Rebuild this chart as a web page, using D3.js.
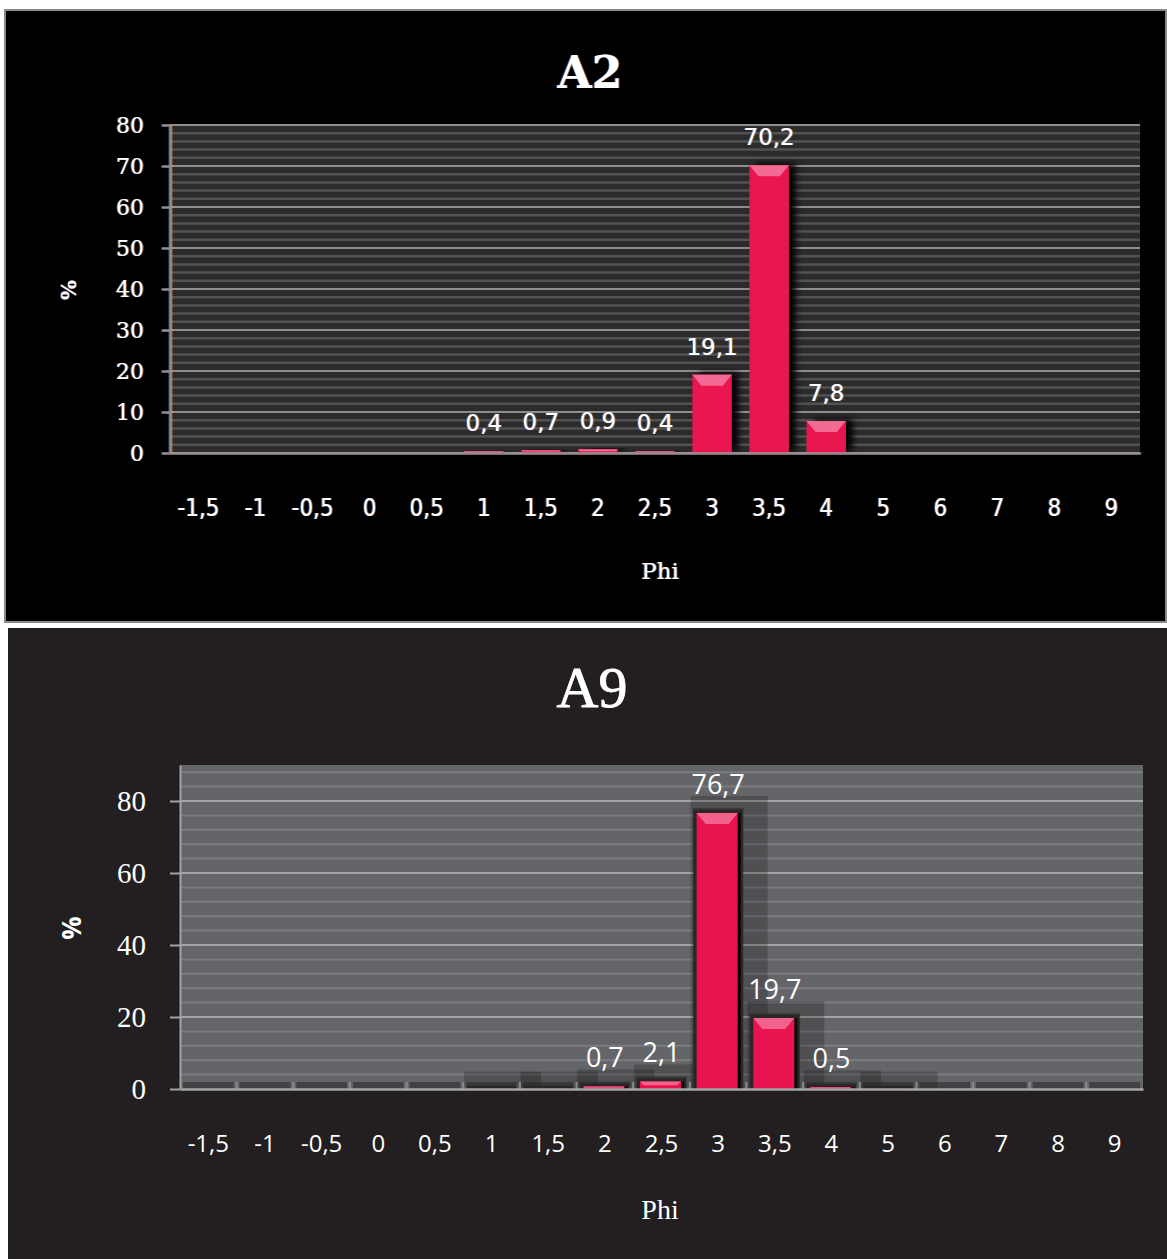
<!DOCTYPE html>
<html>
<head>
<meta charset="utf-8">
<script src="https://cdn.jsdelivr.net/npm/d3@7"></script>
<style>
  html, body { margin: 0; padding: 0; background: #fff; }
  svg { display: block; }
</style>
</head>
<body>
<script>
// Grain-size distributions (percent per Phi class) for samples A2 and A9
const categories = ["-1,5", "-1", "-0,5", "0", "0,5", "1", "1,5", "2", "2,5", "3", "3,5", "4", "5", "6", "7", "8", "9"];
const a2Values = [0, 0, 0, 0, 0, 0.4, 0.7, 0.9, 0.4, 19.1, 70.2, 7.8, 0, 0, 0, 0, 0];
const a9Values = [0, 0, 0, 0, 0, 0.1, 0.1, 0.7, 2.1, 76.7, 19.7, 0.5, 0.1, 0, 0, 0, 0];
const a2Ticks = [0, 10, 20, 30, 40, 50, 60, 70, 80];
const a9Ticks = [0, 20, 40, 60, 80];
const labelMin = 0.3;

const W = 1167, H = 1259;
const fmt = d => d.toFixed(1).replace(".", ",");

const svg = d3.select("body").append("svg").attr("width", W).attr("height", H);
const defs = svg.append("defs");

// Colour fringe around the light text of the A2 panel
const fr = defs.append("filter").attr("id", "fringe")
  .attr("x", "-10%").attr("y", "-10%").attr("width", "120%").attr("height", "120%");
fr.append("feOffset").attr("in", "SourceAlpha").attr("dx", -0.7).attr("dy", 0).attr("result", "ba");
fr.append("feFlood").attr("flood-color", "#4aa3ff").attr("flood-opacity", 0.55).attr("result", "bc");
fr.append("feComposite").attr("in", "bc").attr("in2", "ba").attr("operator", "in").attr("result", "blue");
fr.append("feOffset").attr("in", "SourceAlpha").attr("dx", 0.7).attr("dy", 0).attr("result", "oa");
fr.append("feFlood").attr("flood-color", "#ff9d33").attr("flood-opacity", 0.55).attr("result", "oc");
fr.append("feComposite").attr("in", "oc").attr("in2", "oa").attr("operator", "in").attr("result", "orange");
const fm = fr.append("feMerge");
fm.append("feMergeNode").attr("in", "blue");
fm.append("feMergeNode").attr("in", "orange");
fm.append("feMergeNode").attr("in", "SourceGraphic");

// Soft dark shadow to the right of the A2 bars
const sh = defs.append("filter").attr("id", "barShadow")
  .attr("x", "-30%").attr("y", "-30%").attr("width", "180%").attr("height", "160%");
sh.append("feDropShadow").attr("dx", 7).attr("dy", -2).attr("stdDeviation", 3)
  .attr("flood-color", "#000").attr("flood-opacity", 0.95);

svg.append("rect").attr("width", W).attr("height", H).attr("fill", "#fff");

// ---------------- Panel A2 ----------------
svg.append("rect").attr("x", 5).attr("y", 10).attr("width", 1161).attr("height", 612)
  .attr("fill", "#000").attr("stroke", "#8a8a8a").attr("stroke-width", 2);

const x2 = d3.scaleBand().domain(categories).range([170, 1140]).paddingInner(0.31).paddingOuter(0.155);
const y2 = d3.scaleLinear().domain([0, 80]).range([453, 125]);

const g2 = svg.append("g");
g2.append("rect").attr("x", 170).attr("y", y2(80) - 1).attr("width", 970).attr("height", y2(0) - y2(80) + 1)
  .attr("fill", "#2b2b2b");
g2.selectAll("line.minor").data(d3.range(0, 81, 2).filter(v => v % 10 !== 0)).join("line")
  .attr("x1", 170).attr("x2", 1140).attr("y1", d => y2(d)).attr("y2", d => y2(d))
  .attr("stroke", "#525252").attr("stroke-width", 2.5);
g2.selectAll("line.major").data(a2Ticks).join("line")
  .attr("x1", 170).attr("x2", 1140).attr("y1", d => y2(d)).attr("y2", d => y2(d))
  .attr("stroke", "#8e8e8e").attr("stroke-width", 2);

// bars
const bars2 = g2.append("g").selectAll("g").data(categories.map((c, i) => ({ c, v: a2Values[i] })).filter(d => d.v > 0)).join("g");
bars2.append("rect")
  .attr("x", d => x2(d.c)).attr("y", d => y2(d.v)).attr("width", x2.bandwidth())
  .attr("height", d => y2(0) - y2(d.v)).attr("fill", "#e9164f").attr("filter", "url(#barShadow)");
bars2.append("path")
  .attr("d", d => {
    const x = x2(d.c), w = x2.bandwidth(), t = y2(d.v), h = Math.min(11, (y2(0) - t) * 0.5), ins = Math.min(9, h);
    return `M${x},${t}H${x + w}L${x + w - ins},${t + h}H${x + ins}Z`;
  })
  .attr("fill", "#f36a92");

const a2Text = svg.append("g").attr("filter", "url(#fringe)");

// y axis
const ay2 = a2Text.append("g").attr("transform", "translate(170,0)")
  .call(d3.axisLeft(y2).tickValues(a2Ticks).tickFormat(d3.format("d")).tickSize(8).tickSizeOuter(0).tickPadding(18));
ay2.select(".domain").attr("stroke", "#8e8e8e").attr("stroke-width", 2);
ay2.selectAll(".tick line").attr("stroke", "#8e8e8e").attr("stroke-width", 2);
ay2.selectAll(".tick text").attr("fill", "#fff").attr("font-family", "DejaVu Serif").attr("font-size", 22);

// x axis
const ax2 = a2Text.append("g").attr("transform", `translate(0,${y2(0)})`)
  .call(d3.axisBottom(x2).tickSize(0).tickSizeOuter(0).tickPadding(46));
ax2.select(".domain").attr("stroke", "#8e8e8e").attr("stroke-width", 2);
ax2.selectAll(".tick text").attr("fill", "#fff")
  .attr("font-family", "'Liberation Sans Narrow', 'DejaVu Sans Condensed', 'Liberation Sans'").attr("font-size", 24);

// value labels
a2Text.append("g").selectAll("text").data(categories.map((c, i) => ({ c, v: a2Values[i] })).filter(d => d.v >= labelMin)).join("text")
  .attr("x", d => x2(d.c) + x2.bandwidth() / 2).attr("y", d => y2(d.v) - 20)
  .attr("text-anchor", "middle").attr("fill", "#fff")
  .attr("font-family", "'DejaVu Sans'").attr("font-size", 23)
  .text(d => fmt(d.v));

a2Text.append("text").attr("x", 590).attr("y", 88).attr("text-anchor", "middle").attr("fill", "#fff")
  .attr("font-family", "DejaVu Serif").attr("font-weight", "bold").attr("font-size", 44).text("A2");
a2Text.append("text").attr("x", 660).attr("y", 579).attr("text-anchor", "middle").attr("fill", "#fff")
  .attr("font-family", "DejaVu Serif").attr("font-size", 23).text("Phi");
a2Text.append("text").attr("transform", "translate(76,290) rotate(-90)").attr("text-anchor", "middle").attr("fill", "#fff")
  .attr("font-family", "DejaVu Serif").attr("font-weight", "bold").attr("font-size", 21).text("%");

// ---------------- Panel A9 ----------------
svg.append("rect").attr("x", 8).attr("y", 628).attr("width", 1159).attr("height", 631).attr("fill", "#231f20");

const x9 = d3.scaleBand().domain(categories).range([180, 1143]).paddingInner(0.24).paddingOuter(0.12);
const y9 = d3.scaleLinear().domain([0, 90]).range([1089, 765]);
const step9 = x9.step();

const g9 = svg.append("g");
g9.append("rect").attr("x", 180).attr("y", y9(90)).attr("width", 963).attr("height", y9(0) - y9(90))
  .attr("fill", "#646568");
g9.selectAll("line.minor").data(d3.range(4, 90, 4).filter(v => v % 20 !== 0)).join("line")
  .attr("x1", 180).attr("x2", 1143).attr("y1", d => y9(d)).attr("y2", d => y9(d))
  .attr("stroke", "#7b7c7f").attr("stroke-width", 2);
g9.selectAll("line.major").data(a9Ticks.filter(v => v > 0)).join("line")
  .attr("x1", 180).attr("x2", 1143).attr("y1", d => y9(d)).attr("y2", d => y9(d))
  .attr("stroke", "#a3a4a6").attr("stroke-width", 2);

const data9 = categories.map((c, i) => ({ c, v: a9Values[i] }));
// base shadow strips and raised shadows behind the bars
const sg = g9.append("g");
sg.selectAll("rect.outer").data(data9.filter(d => d.v > 0)).join("rect")
  .attr("x", d => x9(d.c) - 6).attr("y", d => y9(d.v) - 17)
  .attr("width", x9.bandwidth() + 34).attr("height", d => y9(0) - y9(d.v) + 17)
  .attr("fill", "#000").attr("fill-opacity", 0.2);
sg.selectAll("rect.inner").data(data9).join("rect")
  .attr("x", d => x9(d.c) - (step9 - x9.bandwidth()) / 2 + 3).attr("y", d => Math.min(y9(d.v) - 5, y9(0) - 7))
  .attr("width", step9 - 6).attr("height", d => Math.max(y9(0) - y9(d.v) + 5, 7))
  .attr("fill", "#2a2829").attr("fill-opacity", 0.6);

const bars9 = g9.append("g").selectAll("g").data(data9.filter(d => d.v > 0)).join("g");
bars9.append("rect")
  .attr("x", d => x9(d.c) - 3).attr("y", d => y9(d.v) - 3)
  .attr("width", x9.bandwidth() + 6).attr("height", d => y9(0) - y9(d.v) + 3)
  .attr("fill", "#2a2627");
bars9.append("rect")
  .attr("x", d => x9(d.c)).attr("y", d => y9(d.v)).attr("width", x9.bandwidth())
  .attr("height", d => y9(0) - y9(d.v)).attr("fill", "#e8134f");
bars9.append("rect")
  .attr("x", d => x9(d.c) + x9.bandwidth() - 2).attr("y", d => y9(d.v)).attr("width", 3)
  .attr("height", d => y9(0) - y9(d.v)).attr("fill", "#050505");
bars9.append("path")
  .attr("d", d => {
    const x = x9(d.c), w = x9.bandwidth() - 2, t = y9(d.v), h = Math.min(11, (y9(0) - t) * 0.5), ins = Math.min(9, h);
    return `M${x},${t}H${x + w}L${x + w - ins},${t + h}H${x + ins}Z`;
  })
  .attr("fill", "#f2628c");

// axes
const ay9 = svg.append("g").attr("transform", "translate(180,0)")
  .call(d3.axisLeft(y9).tickValues(a9Ticks).tickFormat(d3.format("d")).tickSize(10).tickSizeOuter(0).tickPadding(24));
ay9.select(".domain").attr("stroke", "#a3a4a6").attr("stroke-width", 2);
ay9.selectAll(".tick line").attr("stroke", "#a3a4a6").attr("stroke-width", 2);
ay9.selectAll(".tick text").attr("fill", "#fff").attr("font-family", "'Liberation Serif'").attr("font-size", 29);

const ax9 = svg.append("g").attr("transform", `translate(0,${y9(0)})`)
  .call(d3.axisBottom(x9).tickSize(0).tickSizeOuter(0).tickPadding(46));
ax9.select(".domain").attr("stroke", "#a3a4a6").attr("stroke-width", 2.5);
ax9.selectAll(".tick text").attr("fill", "#fff").attr("font-family", "'Open Sans'").attr("font-size", 24);

// category separators along the base
g9.selectAll("line.sep").data(categories.slice(1)).join("line")
  .attr("x1", d => x9(d) - (step9 - x9.bandwidth()) / 2).attr("x2", d => x9(d) - (step9 - x9.bandwidth()) / 2)
  .attr("y1", y9(0)).attr("y2", y9(0) - 7).attr("stroke", "#8a8b8d").attr("stroke-width", 2);

svg.append("g").selectAll("text").data(data9.filter(d => d.v >= labelMin)).join("text")
  .attr("x", d => x9(d.c) + x9.bandwidth() / 2).attr("y", d => y9(d.v) - 19)
  .attr("text-anchor", "middle").attr("fill", "#fff")
  .attr("font-family", "'Open Sans'").attr("font-size", 27)
  .text(d => fmt(d.v));

svg.append("text").attr("x", 592).attr("y", 707).attr("text-anchor", "middle").attr("fill", "#fff")
  .attr("font-family", "'Liberation Serif'").attr("font-size", 58).attr("stroke", "#fff").attr("stroke-width", 0.8).text("A9");
svg.append("text").attr("x", 660).attr("y", 1219).attr("text-anchor", "middle").attr("fill", "#fff")
  .attr("font-family", "'Liberation Serif'").attr("font-size", 28).text("Phi");
svg.append("text").attr("transform", "translate(81,928) rotate(-90)").attr("text-anchor", "middle").attr("fill", "#fff")
  .attr("font-family", "'Open Sans'").attr("font-weight", "bold").attr("font-size", 26).text("%");
</script>
</body>
</html>
